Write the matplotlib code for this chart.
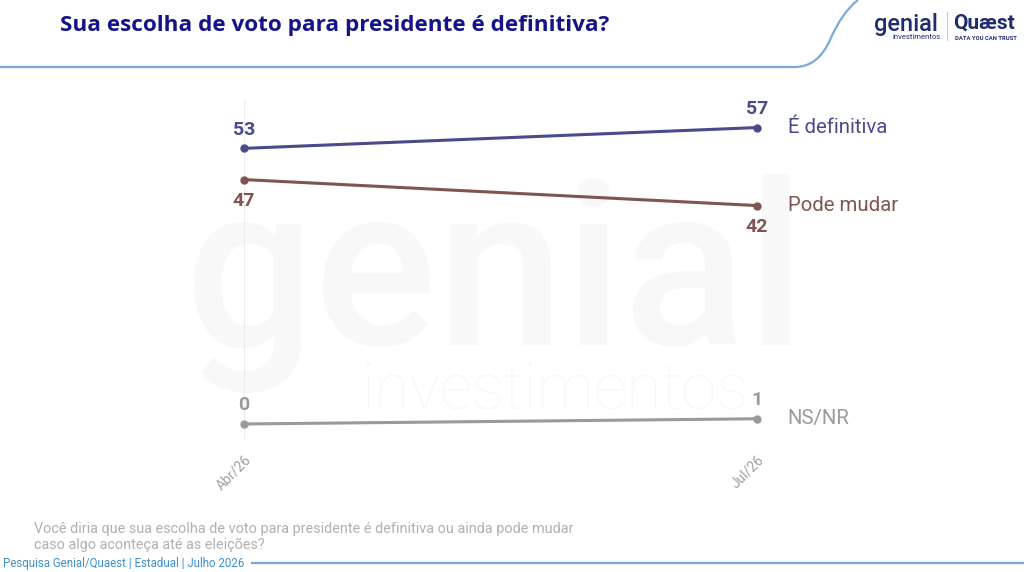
import matplotlib.pyplot as plt
from matplotlib.path import Path
from matplotlib.patches import PathPatch

plt.rcParams['font.family'] = ['Roboto', 'DejaVu Sans']

periods = ['Abr/26', 'Jul/26']
series_names = ['É definitiva', 'Pode mudar', 'NS/NR']
definitiva = [53, 57]
pode_mudar = [47, 42]
nsnr = [0, 1]
colors = ['#4b4a8c', '#7e5550', '#9a9a9a']
label_side = [(1, 1), (-1, -1), (1, 1)]  # 1 = label above point, -1 = below

W, H = 1024, 572
fig = plt.figure(figsize=(W / 100, H / 100), dpi=100)
fig.patch.set_facecolor('white')

# background layer (figure pixel coords)
bg = fig.add_axes([0, 0, 1, 1], zorder=0)
bg.set_xlim(0, W)
bg.set_ylim(H, 0)
bg.axis('off')

# watermark
bg.text(495, 345, 'genial', fontsize=165, color='#f8f8f8', ha='center',
        va='baseline', fontweight='medium')
bg.text(555, 410, 'investimentos', fontsize=46, color='#f8f8f8', ha='center',
        va='baseline', fontweight='light')

# header line with curve
verts = [(0, 67), (795, 67), (818, 67), (830, 40), (842, 12), (858, 0)]
codes = [Path.MOVETO, Path.LINETO, Path.CURVE3, Path.CURVE3, Path.CURVE3, Path.CURVE3]
bg.add_patch(PathPatch(Path(verts, codes), fill=False, edgecolor='#7aaad6', lw=1.6))

bg.text(60, 26, 'Sua escolha de voto para presidente é definitiva?', fontsize=16.2,
        fontweight='bold', color='#14148a', va='center', ha='left',
        family=['Open Sans', 'DejaVu Sans'])

# logos
bg.text(874, 24, 'genial', fontsize=17, color='#1f2d6e', va='center', ha='left',
        fontweight='medium')
bg.text(892, 37, 'investimentos', fontsize=5.5, color='#1f2d6e', va='center', ha='left')
bg.plot([947, 947], [12, 40], color='#c8cbd8', lw=0.8)
bg.text(953, 23, 'Quæst', fontsize=15, color='#1f2d6e', va='center', ha='left',
        fontweight='bold')
bg.text(955, 38, 'DATA YOU CAN TRUST', fontsize=4.2, color='#1f2d6e', va='center',
        ha='left', fontweight='bold')

# footer
bg.text(34, 529, 'Você diria que sua escolha de voto para presidente é definitiva ou ainda pode mudar',
        fontsize=10.4, color='#b0b0b0', va='center', ha='left')
bg.text(34, 545, 'caso algo aconteça até as eleições?', fontsize=10.4, color='#b0b0b0',
        va='center', ha='left')
bg.text(3, 563, 'Pesquisa Genial/Quaest | Estadual | Julho 2026', fontsize=8.3,
        color='#3d8fd1', va='center', ha='left')
bg.plot([252, W], [563, 563], color='#7aaad6', lw=1.6)

# chart axes
x0, x1 = 244, 757
y_top, y_bot = 100, 440
ax = fig.add_axes([x0 / W, 1 - y_bot / H, (x1 - x0) / W, (y_bot - y_top) / H], zorder=1)
ax.patch.set_alpha(0)
ax.set_xlim(0, 1)
ax.set_ylim(-3.08, 62.3)
for s in ax.spines.values():
    s.set_visible(False)
ax.set_yticks([])
ax.set_xticks([0, 1])
ax.set_xticklabels(periods, rotation=45, ha='right', rotation_mode='anchor',
                   fontsize=10, color='#a0a0a0')
ax.tick_params(axis='x', length=0, pad=9)
for xi in [0, 1]:
    ax.axvline(xi, color='#ececec', lw=0.8, zorder=0)

xs = [0, 1]
for name, vals, c, sides in zip(series_names, [definitiva, pode_mudar, nsnr], colors, label_side):
    ax.plot(xs, vals, color=c, lw=2.2, marker='o', markersize=5, clip_on=False, zorder=3)
    for xi, v, sd in zip(xs, vals, sides):
        ax.annotate(str(v), (xi, v), xytext=(0, 7 if sd > 0 else -9), textcoords='offset points',
                    ha='center', va='bottom' if sd > 0 else 'top', fontsize=14,
                    fontweight='bold', color=c)
    ax.annotate(name, (1, vals[-1]), xytext=(22, 0), textcoords='offset points',
                ha='left', va='center', fontsize=14.7, color=c)

fig.savefig('out.png', dpi=100, facecolor='white')
